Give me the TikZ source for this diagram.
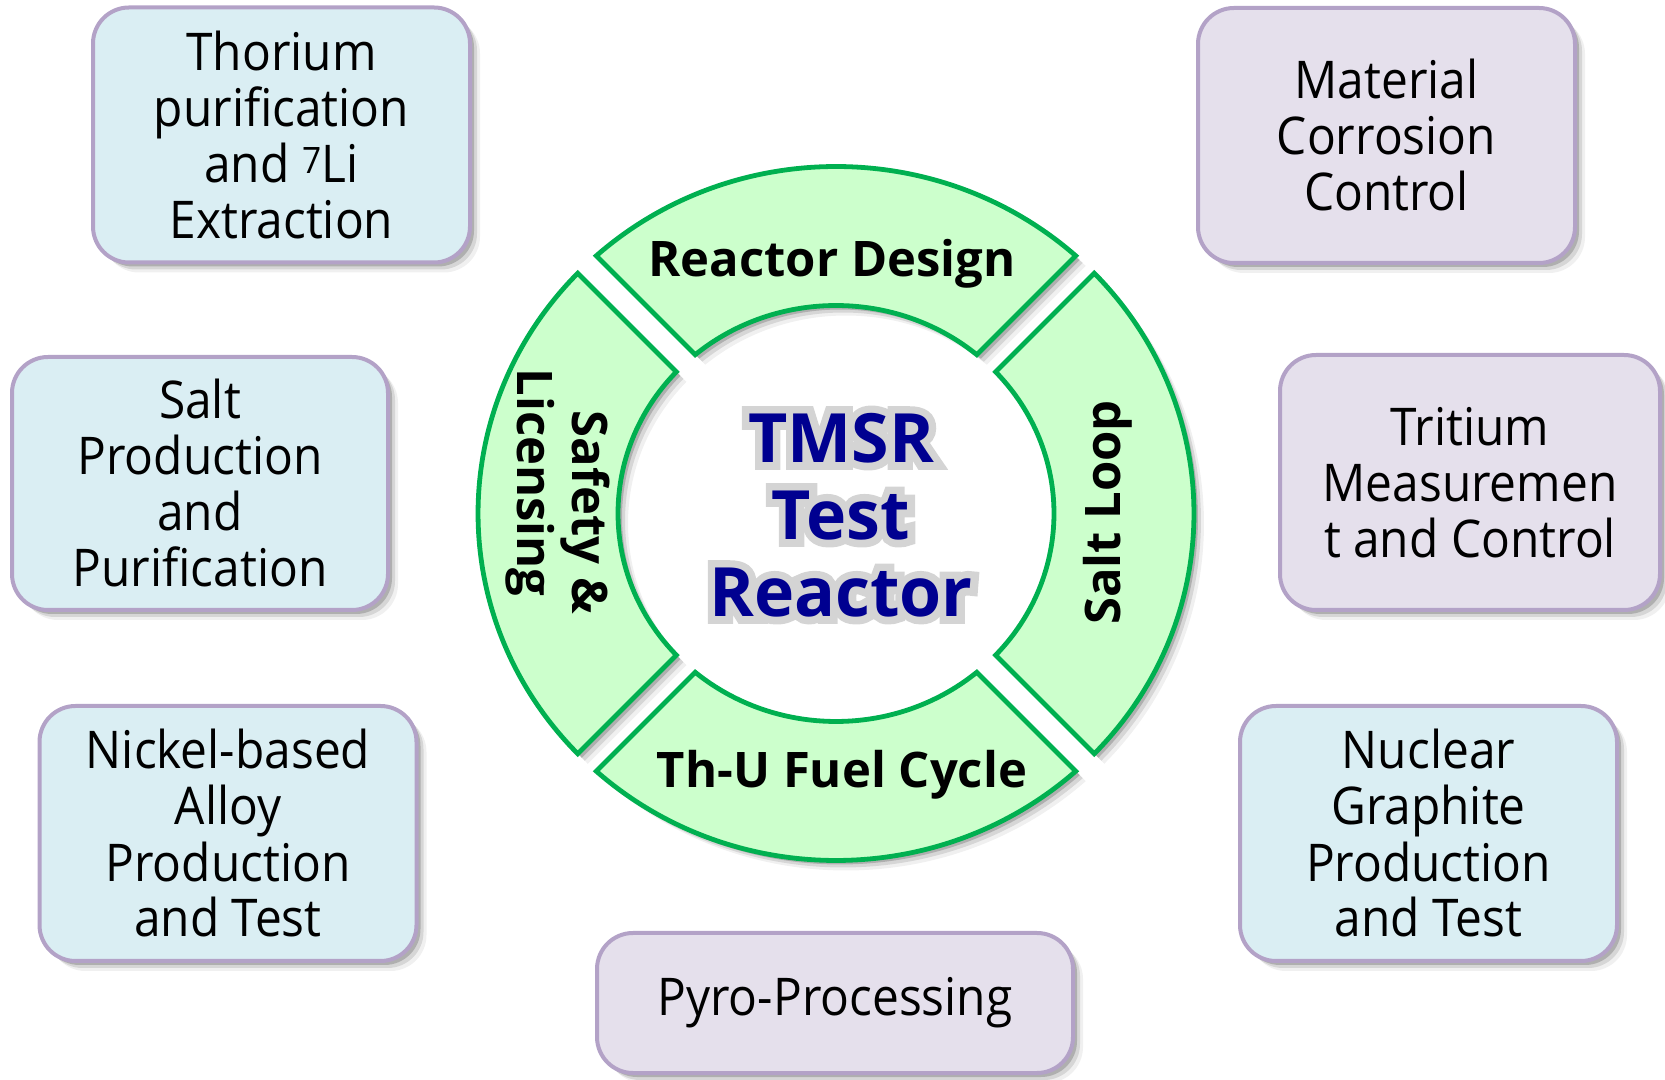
\documentclass[tikz,border=0pt]{standalone}
\usepackage{fontspec}
\setmainfont{Open Sans}
\newfontfamily\boxfont{Open Sans}[FakeStretch=0.92]
\newfontfamily\halofont{Open Sans}[UprightFont=* Bold, FakeBold=22]
\usetikzlibrary{shadows}
\definecolor{boxblue}{HTML}{DAEEF3}
\definecolor{boxlav}{HTML}{E5E0EC}
\definecolor{boxedge}{HTML}{B3A2C7}
\definecolor{ringfill}{HTML}{CCFFCC}
\definecolor{ringedge}{HTML}{00B050}
\definecolor{navytext}{HTML}{000090}
\tikzset{
  shad/.style={
    drop shadow={shadow xshift=4pt,shadow yshift=-4pt,opacity=.18,fill=black},
    drop shadow={shadow xshift=7pt,shadow yshift=-7pt,opacity=.11,fill=black},
    drop shadow={shadow xshift=10pt,shadow yshift=-10pt,opacity=.06,fill=black}},
  tbox/.style={shad, draw=boxedge, line width=4pt, rounded corners=36pt,
    align=center, inner sep=0pt, minimum width=377pt, minimum height=255pt,
    font=\boxfont\fontsize{52}{56}\selectfont},
  bluebox/.style={tbox, fill=boxblue},
  lavbox/.style={tbox, fill=boxlav},
  seg/.style={shad, draw=ringedge, fill=ringfill, line width=4.8pt},
  seglabel/.style={font=\bfseries\fontsize{49}{53}\selectfont, inner sep=0pt},
  titletext/.style={align=center, inner sep=0pt}
}
\begin{document}
\begin{tikzpicture}[x=1pt,y=1pt]
\useasboundingbox (0,0) rectangle (1665,1079);

% outer boxes
\node[bluebox] (thorium) at (281.5,944) {Thorium\\purification\\and \textsuperscript{7}Li\\Extraction};
\node[bluebox, minimum width=376pt, minimum height=253pt] (saltprod) at (200,595.5) {Salt\\Production\\and\\Purification};
\node[bluebox] (nickel) at (228,245.5) {Nickel-based\\Alloy\\Production\\and Test};
\node[lavbox, minimum width=476pt, minimum height=140pt] (pyro) at (835,76) {Pyro-Processing};
\node[bluebox] (graphite) at (1428.5,245.5) {Nuclear\\Graphite\\Production\\and Test};
\node[lavbox, minimum width=380pt] (tritium) at (1470,596.5) {Tritium\\Measuremen\\t and Control};
\node[lavbox] (material) at (1386.5,943.5) {Material\\Corrosion\\Control};

% ring segments
\begin{scope}[shift={(836,565.5)}]
\draw[seg] (47.963:358 and 347) arc[start angle=47.963,end angle=132.037,x radius=358,y radius=347]
  -- (130.230:218 and 208) arc[start angle=130.230,end angle=49.770,x radius=218,y radius=208] -- cycle;
\draw[seg] (136.175:358 and 347) arc[start angle=136.175,end angle=223.825,x radius=358,y radius=347]
  -- (222.920:218 and 208) arc[start angle=222.920,end angle=137.080,x radius=218,y radius=208] -- cycle;
\draw[seg] (227.963:358 and 347) arc[start angle=227.963,end angle=312.037,x radius=358,y radius=347]
  -- (310.230:218 and 208) arc[start angle=310.230,end angle=229.770,x radius=218,y radius=208] -- cycle;
\draw[seg] (-43.825:358 and 347) arc[start angle=-43.825,end angle=43.825,x radius=358,y radius=347]
  -- (42.920:218 and 208) arc[start angle=42.920,end angle=-42.920,x radius=218,y radius=208] -- cycle;
\end{scope}

% ring labels
\node[seglabel, anchor=base] (design) at (832,802) {Reactor Design};
\node[seglabel, anchor=base] (fuel) at (842,291) {Th-U Fuel Cycle};
\node[seglabel, anchor=base, rotate=90] (loop) at (1120,566.5) {Salt Loop};
\node[seglabel, anchor=base, rotate=-90] (safety) at (572,566.5) {Safety \&};
\node[seglabel, anchor=base, rotate=-90] (licensing) at (517,596.5) {Licensing};

% centre title with glow
\node[titletext, font=\halofont\fontsize{68}{77}\selectfont, text=black!17] (tmsrglow) at (841,564)
  {TMSR\\Test\\Reactor};
\node[titletext, font=\bfseries\fontsize{68}{77}\selectfont, text=navytext] (tmsr) at (841,564)
  {TMSR\\Test\\Reactor};
\end{tikzpicture}
\end{document}
